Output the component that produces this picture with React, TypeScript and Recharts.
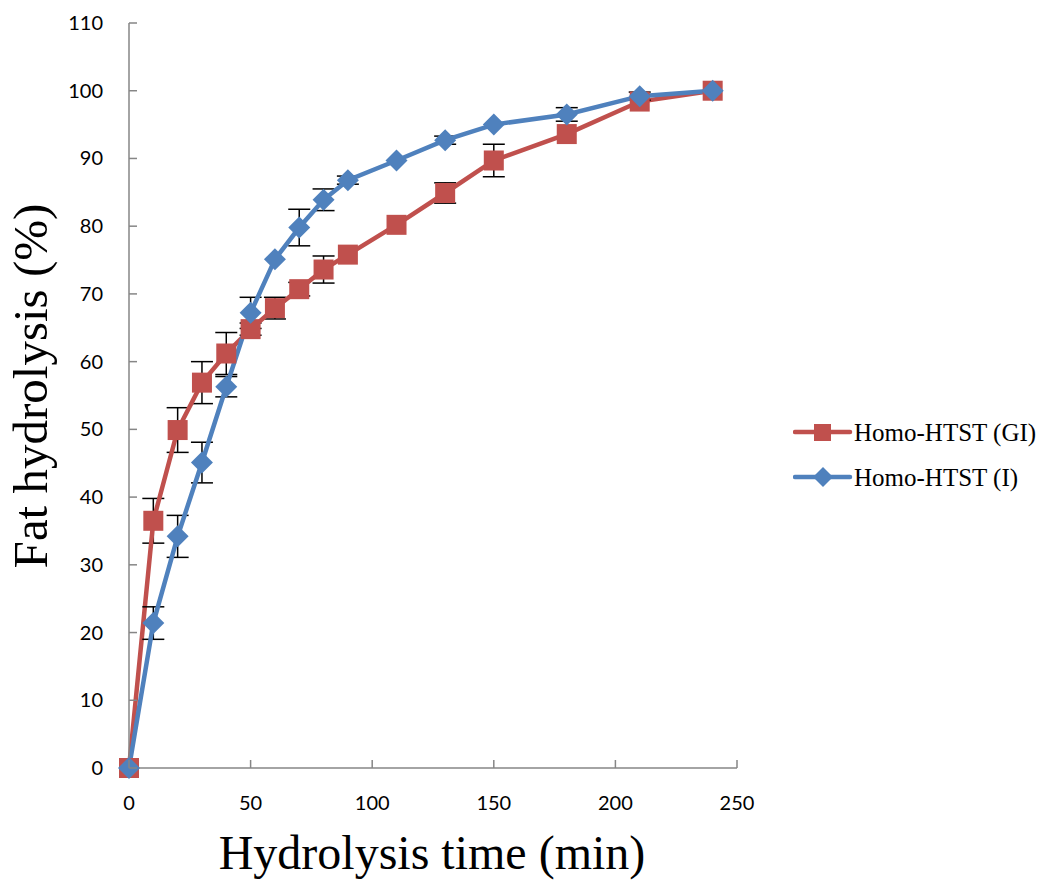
import React from 'react';
import { LineChart, Line, XAxis, YAxis, ErrorBar, Legend } from 'recharts';

const times = [0, 10, 20, 30, 40, 50, 60, 70, 80, 90, 110, 130, 150, 180, 210, 240];
const giValues = [0, 36.5, 49.9, 56.9, 61.2, 64.8, 67.9, 70.7, 73.6, 75.8, 80.2, 84.9, 89.7, 93.6, 98.4, 100];
const giErrors = [0, 3.3, 3.3, 3.1, 3.1, 0.9, 1.6, 1.0, 2.0, 0, 0, 1.5, 2.4, 0, 0, 0];
const iValues = [0, 21.4, 34.2, 45.1, 56.3, 67.2, 75.1, 79.8, 83.9, 86.8, 89.7, 92.7, 95.0, 96.5, 99.2, 100];
const iErrors = [0, 2.4, 3.1, 3.0, 1.5, 2.3, 0, 2.7, 1.6, 0.6, 0, 0.6, 0, 1.0, 0.6, 0];

const xTicks = [0, 50, 100, 150, 200, 250];
const yTicks = [0, 10, 20, 30, 40, 50, 60, 70, 80, 90, 100, 110];

const seriesNames = ['Homo-HTST (GI)', 'Homo-HTST (I)'];

const data = times.map((t, i) => ({
  t,
  gi: giValues[i],
  giErr: giErrors[i],
  hi: iValues[i],
  hiErr: iErrors[i],
}));

const RED = '#C0504D';
const BLUE = '#4F81BD';
const AXIS = '#868686';
const TICK_FONT = 'Lato, "Open Sans", sans-serif';
const SERIF = '"Liberation Serif", "Times New Roman", serif';

const SquareDot = (props: any) => {
  const { cx, cy } = props;
  if (cx == null || cy == null) return null;
  return <rect x={cx - 10} y={cy - 10} width={20} height={20} fill={RED} />;
};

const DiamondDot = (props: any) => {
  const { cx, cy } = props;
  if (cx == null || cy == null) return null;
  const r = 11;
  return <polygon points={`${cx},${cy - r} ${cx + r},${cy} ${cx},${cy + r} ${cx - r},${cy}`} fill={BLUE} />;
};

const YTick = (props: any) => {
  const { x, y, payload } = props;
  const axisX = x + 26;
  return (
    <g>
      <line x1={axisX} x2={axisX + 8} y1={y} y2={y} stroke={AXIS} strokeWidth={1.5} />
      <text x={x} y={y} dy={7} textAnchor="end" fontFamily={TICK_FONT} fontSize={20} fill="#000">
        {payload.value}
      </text>
    </g>
  );
};

const XTick = (props: any) => {
  const { x, y, payload } = props;
  return (
    <g>
      <line x1={x} x2={x} y1={y} y2={y - 8} stroke={AXIS} strokeWidth={1.5} />
      <text x={x} y={y + 42} textAnchor="middle" fontFamily={TICK_FONT} fontSize={20} fill="#000">
        {payload.value}
      </text>
    </g>
  );
};

const LegendContent = () => (
  <svg width={260} height={90}>
    <g>
      <line x1={2} x2={57} y1={19} y2={19} stroke={RED} strokeWidth={4.5} strokeLinecap="round" />
      <rect x={21} y={11} width={17} height={17} fill={RED} />
      <text x={61} y={28} fontFamily={SERIF} fontSize={25} fill="#000">{seriesNames[0]}</text>
    </g>
    <g>
      <line x1={2} x2={57} y1={64} y2={64} stroke={BLUE} strokeWidth={4.5} strokeLinecap="round" />
      <polygon points="30,54 40,64 30,74 20,64" fill={BLUE} />
      <text x={61} y={73} fontFamily={SERIF} fontSize={25} fill="#000">{seriesNames[1]}</text>
    </g>
  </svg>
);

export default function App() {
  return (
    <div style={{ position: 'absolute', left: 0, top: 0, width: 1054, height: 882, background: '#fff' }}>
      <LineChart
        width={1054}
        height={882}
        data={data}
        margin={{ top: 23, right: 57, bottom: 0, left: 0 }}
      >
        <XAxis
          dataKey="t"
          type="number"
          domain={[0, 250]}
          ticks={xTicks}
          interval={0}
          tickSize={0}
          tickMargin={0}
          tickLine={false}
          axisLine={{ stroke: AXIS, strokeWidth: 1.5 }}
          tick={<XTick />}
          height={114}
          label={() => (
            <text x={432} y={869} textAnchor="middle" fontFamily={SERIF} fontSize={48} fill="#000">
              Hydrolysis time (min)
            </text>
          )}
        />
        <YAxis
          type="number"
          domain={[0, 110]}
          ticks={yTicks}
          interval={0}
          width={129}
          tickSize={0}
          tickMargin={26}
          tickLine={false}
          axisLine={{ stroke: AXIS, strokeWidth: 1.5 }}
          tick={<YTick />}
          label={() => (
            <text
              x={47}
              y={386}
              transform="rotate(-90 47 386)"
              textAnchor="middle"
              fontFamily={SERIF}
              fontSize={49}
              fill="#000"
            >
              Fat hydrolysis (%)
            </text>
          )}
        />
        <Legend
          layout="vertical"
          align="right"
          verticalAlign="top"
          wrapperStyle={{ position: 'absolute', left: 793, top: 413, width: 260 }}
          content={<LegendContent />}
        />
        <Line
          dataKey="gi"
          name={seriesNames[0]}
          stroke={RED}
          strokeWidth={4.5}
          dot={<SquareDot />}
          activeDot={false}
          isAnimationActive={false}
        >
          <ErrorBar dataKey="giErr" width={11} stroke="#000" strokeWidth={1.5} direction="y" />
        </Line>
        <Line
          dataKey="hi"
          name={seriesNames[1]}
          stroke={BLUE}
          strokeWidth={4.5}
          dot={<DiamondDot />}
          activeDot={false}
          isAnimationActive={false}
        >
          <ErrorBar dataKey="hiErr" width={11} stroke="#000" strokeWidth={1.5} direction="y" />
        </Line>
      </LineChart>
    </div>
  );
}
